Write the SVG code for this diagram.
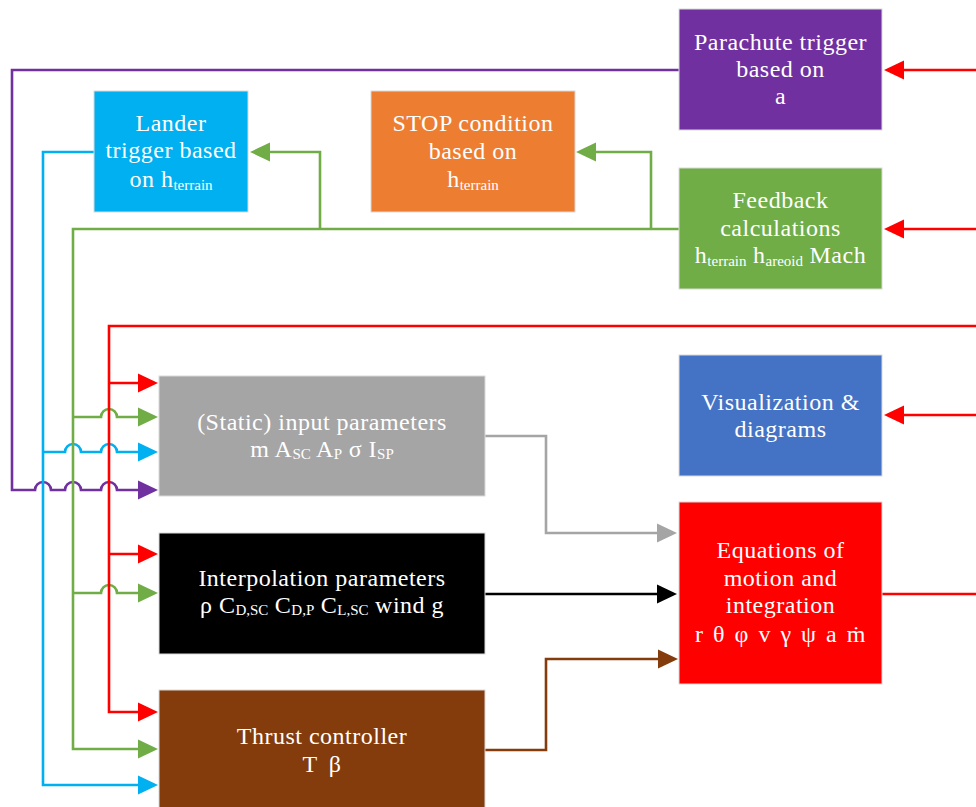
<svg xmlns="http://www.w3.org/2000/svg" width="976" height="807" viewBox="0 0 976 807">
<style>
.box{stroke:#d9d9d9;stroke-width:1}
.t{font-family:"Liberation Serif","DejaVu Serif",serif;font-size:24px;fill:#ffffff;text-anchor:middle;letter-spacing:0.5px}
.s{font-size:15px;letter-spacing:0}
.c{fill:none;stroke-width:2.6;stroke-linejoin:miter}
</style>
<defs>
<marker id="aR" markerUnits="userSpaceOnUse" markerWidth="20" markerHeight="20" refX="16" refY="10" orient="auto"><path d="M0,0.5 L20,10 L0,19.5 z" fill="#ff0000"/></marker>
<marker id="aG" markerUnits="userSpaceOnUse" markerWidth="20" markerHeight="20" refX="16" refY="10" orient="auto"><path d="M0,0.5 L20,10 L0,19.5 z" fill="#70ad47"/></marker>
<marker id="aC" markerUnits="userSpaceOnUse" markerWidth="20" markerHeight="20" refX="16" refY="10" orient="auto"><path d="M0,0.5 L20,10 L0,19.5 z" fill="#00b0f0"/></marker>
<marker id="aP" markerUnits="userSpaceOnUse" markerWidth="20" markerHeight="20" refX="16" refY="10" orient="auto"><path d="M0,0.5 L20,10 L0,19.5 z" fill="#7030a0"/></marker>
<marker id="aY" markerUnits="userSpaceOnUse" markerWidth="20" markerHeight="20" refX="16" refY="10" orient="auto"><path d="M0,0.5 L20,10 L0,19.5 z" fill="#a5a5a5"/></marker>
<marker id="aK" markerUnits="userSpaceOnUse" markerWidth="20" markerHeight="20" refX="16" refY="10" orient="auto"><path d="M0,0.5 L20,10 L0,19.5 z" fill="#000000"/></marker>
<marker id="aB" markerUnits="userSpaceOnUse" markerWidth="20" markerHeight="20" refX="16" refY="10" orient="auto"><path d="M0,0.5 L20,10 L0,19.5 z" fill="#843c0c"/></marker>
</defs>

<g id="connectors">
<path class="c" stroke="#7030a0" marker-end="url(#aP)" d="M679,70 H12 V490 H35 a8,8 0 0 1 16,0 H65 a8,8 0 0 1 16,0 H101 a8,8 0 0 1 16,0 H154"/>
<path class="c" stroke="#00b0f0" marker-end="url(#aC)" d="M94,152 H43 V785 H154"/>
<path class="c" stroke="#00b0f0" marker-end="url(#aC)" d="M43,452 H65 a8,8 0 0 1 16,0 H101 a8,8 0 0 1 16,0 H154"/>
<path class="c" stroke="#70ad47" marker-end="url(#aG)" d="M679,229 H73 V749 H154"/>
<path class="c" stroke="#70ad47" marker-end="url(#aG)" d="M73,417 H101 a8,8 0 0 1 16,0 H154"/>
<path class="c" stroke="#70ad47" marker-end="url(#aG)" d="M73,593 H101 a8,8 0 0 1 16,0 H154"/>
<path class="c" stroke="#70ad47" marker-end="url(#aG)" d="M320,229 V152 H254"/>
<path class="c" stroke="#70ad47" marker-end="url(#aG)" d="M651,229 V152 H580"/>
<path class="c" stroke="#ff0000" marker-end="url(#aR)" d="M976,326 H109 V712 H154"/>
<path class="c" stroke="#ff0000" marker-end="url(#aR)" d="M109,383 H154"/>
<path class="c" stroke="#ff0000" marker-end="url(#aR)" d="M109,554 H154"/>
<path class="c" stroke="#ff0000" marker-end="url(#aR)" d="M976,70 H888"/>
<path class="c" stroke="#ff0000" marker-end="url(#aR)" d="M976,229 H888"/>
<path class="c" stroke="#ff0000" marker-end="url(#aR)" d="M976,415 H888"/>
<path class="c" stroke="#ff0000" d="M882,594 H976"/>
<path class="c" stroke="#a5a5a5" marker-end="url(#aY)" d="M485,436 H546 V533 H673"/>
<path class="c" stroke="#000000" marker-end="url(#aK)" d="M485,594 H673"/>
<path class="c" stroke="#843c0c" marker-end="url(#aB)" d="M485,750 H546 V659 H674"/>
</g>

<g id="parachute">
<rect class="box" x="679" y="9" width="203" height="121" fill="#7030a0"/>
<text class="t" x="780.5" y="50">Parachute trigger</text>
<text class="t" x="780.5" y="77">based on</text>
<text class="t" x="780.5" y="104">a</text>
</g>

<g id="lander">
<rect class="box" x="94" y="91" width="154" height="121" fill="#00b0f0"/>
<text class="t" x="171" y="131">Lander</text>
<text class="t" x="171" y="158">trigger based</text>
<text class="t" x="171" y="187">on h<tspan class="s" dy="3">terrain</tspan></text>
</g>

<g id="stop">
<rect class="box" x="371" y="91" width="204" height="121" fill="#ed7d31"/>
<text class="t" x="473" y="131">STOP condition</text>
<text class="t" x="473" y="159">based on</text>
<text class="t" x="473" y="187">h<tspan class="s" dy="3">terrain</tspan></text>
</g>

<g id="feedback">
<rect class="box" x="679" y="168" width="203" height="121" fill="#70ad47"/>
<text class="t" x="780.5" y="208">Feedback</text>
<text class="t" x="780.5" y="236">calculations</text>
<text class="t" x="780.5" y="263">h<tspan class="s" dy="3">terrain</tspan><tspan dy="-3"> h</tspan><tspan class="s" dy="3">areoid</tspan><tspan dy="-3"> Mach</tspan></text>
</g>

<g id="static">
<rect class="box" x="159" y="376" width="326" height="120" fill="#a5a5a5"/>
<text class="t" x="322" y="430">(Static) input parameters</text>
<text class="t" x="322" y="457">m A<tspan class="s" dy="2">SC</tspan><tspan dy="-2"> A</tspan><tspan class="s" dy="2">P</tspan><tspan dy="-2"> σ I</tspan><tspan class="s" dy="2">SP</tspan></text>
</g>

<g id="visualization">
<rect class="box" x="679" y="355" width="203" height="121" fill="#4472c4"/>
<text class="t" x="780.5" y="410">Visualization &amp;</text>
<text class="t" x="780.5" y="437">diagrams</text>
</g>

<g id="interpolation">
<rect class="box" x="159" y="533" width="326" height="121" fill="#000000"/>
<text class="t" x="322" y="586">Interpolation parameters</text>
<text class="t" x="322" y="613">ρ C<tspan class="s" dy="2">D,SC</tspan><tspan dy="-2"> C</tspan><tspan class="s" dy="2">D,P</tspan><tspan dy="-2"> C</tspan><tspan class="s" dy="2">L,SC</tspan><tspan dy="-2"> wind g</tspan></text>
</g>

<g id="equations">
<rect class="box" x="679" y="502" width="203" height="182" fill="#ff0000"/>
<text class="t" x="780.5" y="558">Equations of</text>
<text class="t" x="780.5" y="586">motion and</text>
<text class="t" x="780.5" y="613">integration</text>
<text class="t" x="780.5" y="642" word-spacing="3">r θ φ v γ ψ a ṁ</text>
</g>

<g id="thrust">
<rect class="box" x="159" y="690" width="326" height="130" fill="#843c0c"/>
<text class="t" x="322" y="744">Thrust controller</text>
<text class="t" x="322" y="772" word-spacing="5">T β</text>
</g>
</svg>
